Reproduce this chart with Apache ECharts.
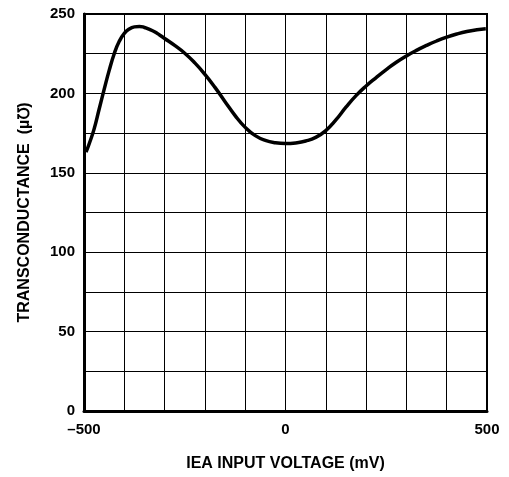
<!DOCTYPE html>
<html><head><meta charset="utf-8">
<script src="https://cdn.jsdelivr.net/npm/echarts@6/dist/echarts.min.js"></script>
<style>html,body{margin:0;padding:0;background:#fff}#c{width:509px;height:477px}</style>
</head><body><div id="c"></div>
<script>
var voltage = [-495,-487.5,-475,-462.5,-450,-437.5,-425,-412.5,-400,-387.5,-375,-362.5,-350,-337.5,-325,-312.5,-300,-275,-250,-225,-200,-175,-150,-125,-100,-75,-50,-25,0,25,50,75,100,125,150,175,200,225,250,275,300,325,350,375,400,425,450,475,497];
var transconductance = [163,168,177.5,190,202.5,214.5,225,232.8,237.8,240.6,241.9,242.2,241.5,240.3,238.8,236.8,234.6,230.2,225.3,219.2,212,203.8,194.8,186,178.6,173.4,170.4,168.9,168.4,168.8,170,172.3,176.6,183.3,191.3,198.6,204.7,210,215,219.6,223.6,227.1,230.2,233,235.4,237.4,239,240.1,240.7];
var xTickLabels = [-500, 0, 500];
var yTickLabels = [0, 50, 100, 150, 200, 250];
var xTitle = 'IEA INPUT VOLTAGE (mV)';
var yTitle = 'TRANSCONDUCTANCE  (\u00B5\u2127)';

var font = '"Liberation Sans", Arial, sans-serif';
var chart = echarts.init(document.getElementById('c'), null, {renderer: 'canvas'});
chart.setOption({
  animation: false,
  backgroundColor: '#fff',
  grid: {left: 84, right: 22, top: 14, bottom: 65, show: true, borderColor: '#000', borderWidth: 2},
  xAxis: {
    type: 'value', min: -500, max: 500, interval: 100,
    name: xTitle, nameLocation: 'middle', nameGap: 45,
    nameTextStyle: {fontFamily: font, fontWeight: 'bold', fontSize: 16, color: '#000'},
    axisLine: {show: true, onZero: false, lineStyle: {color: '#000', width: 3}},
    axisTick: {show: false},
    splitLine: {show: true, lineStyle: {color: '#000', width: 1}},
    axisLabel: {
      fontFamily: font, fontWeight: 'bold', fontSize: 15, color: '#000', margin: 11,
      formatter: function (v) { return xTickLabels.indexOf(v) >= 0 ? String(v).replace('-', '\u2013') : ''; }
    }
  },
  yAxis: {
    type: 'value', min: 0, max: 250, interval: 25,
    name: yTitle, nameLocation: 'middle', nameGap: 51, nameRotate: 90,
    nameTextStyle: {fontFamily: font, fontWeight: 'bold', fontSize: 16, color: '#000'},
    axisLine: {show: true, onZero: false, lineStyle: {color: '#000', width: 3}},
    axisTick: {show: false},
    splitLine: {show: true, lineStyle: {color: '#000', width: 1}},
    axisLabel: {
      fontFamily: font, fontWeight: 'bold', fontSize: 15, color: '#000', margin: 9,
      formatter: function (v) { return yTickLabels.indexOf(v) >= 0 ? String(v) : ''; }
    }
  },
  series: [{
    type: 'line', smooth: 0.5, showSymbol: false,
    data: voltage.map(function (v, i) { return [v, transconductance[i]]; }),
    lineStyle: {color: '#000', width: 3.5}
  }]
});
</script></body></html>
